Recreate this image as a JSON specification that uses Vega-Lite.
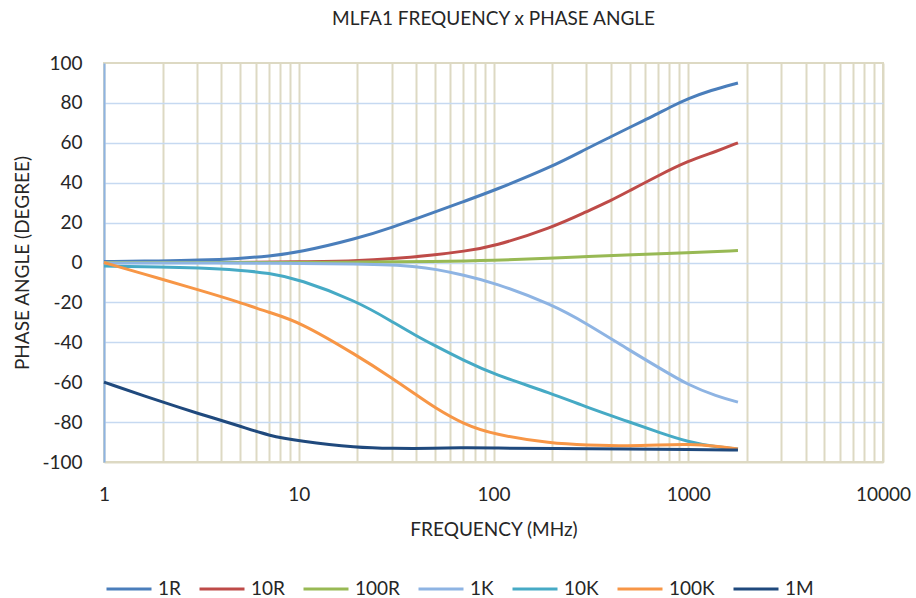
{
  "$schema": "https://vega.github.io/schema/vega-lite/v6.json",
  "width": 779,
  "height": 399,
  "autosize": {"type": "none"},
  "padding": {"left": 104, "top": 63, "right": 33, "bottom": 136},
  "background": "white",
  "config": {
    "font": "Lato",
    "view": {"stroke": "#DDD9C3", "strokeWidth": 2}
  },
  "title": {
    "text": "MLFA1 FREQUENCY x PHASE ANGLE",
    "fontSize": 19,
    "fontWeight": "normal",
    "color": "#262626",
    "anchor": "middle",
    "frame": "group",
    "baseline": "alphabetic",
    "offset": 10
  },
  "data": {
    "values": [
      {"series": "1R", "freq": 1, "phase": 0.5},
      {"series": "1R", "freq": 2, "phase": 0.8},
      {"series": "1R", "freq": 3, "phase": 1.1},
      {"series": "1R", "freq": 5, "phase": 2.0},
      {"series": "1R", "freq": 7, "phase": 3.2},
      {"series": "1R", "freq": 10, "phase": 5},
      {"series": "1R", "freq": 20, "phase": 12},
      {"series": "1R", "freq": 30, "phase": 17.5},
      {"series": "1R", "freq": 50, "phase": 25.3},
      {"series": "1R", "freq": 70, "phase": 30.5},
      {"series": "1R", "freq": 100, "phase": 36},
      {"series": "1R", "freq": 200, "phase": 48},
      {"series": "1R", "freq": 300, "phase": 57},
      {"series": "1R", "freq": 400, "phase": 63},
      {"series": "1R", "freq": 500, "phase": 67.7},
      {"series": "1R", "freq": 600, "phase": 71.5},
      {"series": "1R", "freq": 700, "phase": 74.7},
      {"series": "1R", "freq": 800, "phase": 77.7},
      {"series": "1R", "freq": 1000, "phase": 82.2},
      {"series": "1R", "freq": 1300, "phase": 86.3},
      {"series": "1R", "freq": 1800, "phase": 90},

      {"series": "10R", "freq": 1, "phase": 0},
      {"series": "10R", "freq": 5, "phase": 0},
      {"series": "10R", "freq": 10, "phase": 0.3},
      {"series": "10R", "freq": 20, "phase": 0.8},
      {"series": "10R", "freq": 30, "phase": 1.8},
      {"series": "10R", "freq": 50, "phase": 3.8},
      {"series": "10R", "freq": 70, "phase": 5.6},
      {"series": "10R", "freq": 100, "phase": 8},
      {"series": "10R", "freq": 200, "phase": 17.5},
      {"series": "10R", "freq": 300, "phase": 25.5},
      {"series": "10R", "freq": 400, "phase": 31},
      {"series": "10R", "freq": 500, "phase": 36},
      {"series": "10R", "freq": 700, "phase": 43.5},
      {"series": "10R", "freq": 1000, "phase": 51},
      {"series": "10R", "freq": 1400, "phase": 55.7},
      {"series": "10R", "freq": 1800, "phase": 60},

      {"series": "100R", "freq": 1, "phase": 0},
      {"series": "100R", "freq": 10, "phase": 0},
      {"series": "100R", "freq": 20, "phase": 0.2},
      {"series": "100R", "freq": 50, "phase": 0.5},
      {"series": "100R", "freq": 100, "phase": 1.0},
      {"series": "100R", "freq": 200, "phase": 2.2},
      {"series": "100R", "freq": 300, "phase": 3.0},
      {"series": "100R", "freq": 500, "phase": 3.8},
      {"series": "100R", "freq": 1000, "phase": 4.9},
      {"series": "100R", "freq": 1800, "phase": 6},

      {"series": "1K", "freq": 1, "phase": -0.2},
      {"series": "1K", "freq": 10, "phase": -0.3},
      {"series": "1K", "freq": 20, "phase": -0.7},
      {"series": "1K", "freq": 30, "phase": -1.2},
      {"series": "1K", "freq": 40, "phase": -2},
      {"series": "1K", "freq": 50, "phase": -3.3},
      {"series": "1K", "freq": 70, "phase": -6.2},
      {"series": "1K", "freq": 100, "phase": -10},
      {"series": "1K", "freq": 200, "phase": -21},
      {"series": "1K", "freq": 300, "phase": -30.5},
      {"series": "1K", "freq": 500, "phase": -44},
      {"series": "1K", "freq": 700, "phase": -52.5},
      {"series": "1K", "freq": 1000, "phase": -61.5},
      {"series": "1K", "freq": 1400, "phase": -67},
      {"series": "1K", "freq": 1800, "phase": -70},

      {"series": "10K", "freq": 1, "phase": -1.8},
      {"series": "10K", "freq": 2, "phase": -2.2},
      {"series": "10K", "freq": 3, "phase": -2.7},
      {"series": "10K", "freq": 5, "phase": -3.8},
      {"series": "10K", "freq": 7, "phase": -5.3},
      {"series": "10K", "freq": 10, "phase": -8.3},
      {"series": "10K", "freq": 20, "phase": -19.5},
      {"series": "10K", "freq": 30, "phase": -29.5},
      {"series": "10K", "freq": 40, "phase": -36.7},
      {"series": "10K", "freq": 50, "phase": -41.7},
      {"series": "10K", "freq": 70, "phase": -49},
      {"series": "10K", "freq": 100, "phase": -56},
      {"series": "10K", "freq": 200, "phase": -65.7},
      {"series": "10K", "freq": 300, "phase": -72.5},
      {"series": "10K", "freq": 500, "phase": -80},
      {"series": "10K", "freq": 700, "phase": -85},
      {"series": "10K", "freq": 1000, "phase": -90},
      {"series": "10K", "freq": 1400, "phase": -92.5},
      {"series": "10K", "freq": 1800, "phase": -93.5},

      {"series": "100K", "freq": 1, "phase": 0},
      {"series": "100K", "freq": 2, "phase": -8.5},
      {"series": "100K", "freq": 3, "phase": -13.5},
      {"series": "100K", "freq": 5, "phase": -20},
      {"series": "100K", "freq": 7, "phase": -25},
      {"series": "100K", "freq": 10, "phase": -29.5},
      {"series": "100K", "freq": 20, "phase": -46.7},
      {"series": "100K", "freq": 30, "phase": -57.8},
      {"series": "100K", "freq": 40, "phase": -66.2},
      {"series": "100K", "freq": 50, "phase": -72.8},
      {"series": "100K", "freq": 70, "phase": -81},
      {"series": "100K", "freq": 100, "phase": -86.2},
      {"series": "100K", "freq": 200, "phase": -90.8},
      {"series": "100K", "freq": 300, "phase": -91.5},
      {"series": "100K", "freq": 500, "phase": -92},
      {"series": "100K", "freq": 700, "phase": -91.5},
      {"series": "100K", "freq": 1000, "phase": -91},
      {"series": "100K", "freq": 1400, "phase": -92},
      {"series": "100K", "freq": 1800, "phase": -93.5},

      {"series": "1M", "freq": 1, "phase": -60},
      {"series": "1M", "freq": 2, "phase": -70},
      {"series": "1M", "freq": 3, "phase": -75.5},
      {"series": "1M", "freq": 5, "phase": -82},
      {"series": "1M", "freq": 7, "phase": -86.8},
      {"series": "1M", "freq": 10, "phase": -89.5},
      {"series": "1M", "freq": 20, "phase": -92.8},
      {"series": "1M", "freq": 30, "phase": -93.2},
      {"series": "1M", "freq": 50, "phase": -93.2},
      {"series": "1M", "freq": 70, "phase": -92.8},
      {"series": "1M", "freq": 100, "phase": -93},
      {"series": "1M", "freq": 200, "phase": -93.3},
      {"series": "1M", "freq": 500, "phase": -93.5},
      {"series": "1M", "freq": 1000, "phase": -93.8},
      {"series": "1M", "freq": 1800, "phase": -94}
    ]
  },
  "mark": {"type": "line", "interpolate": "basis", "strokeWidth": 3},
  "encoding": {
    "x": {
      "field": "freq",
      "type": "quantitative",
      "scale": {"type": "log", "domain": [1, 10000]},
      "axis": {
        "values": [1,2,3,4,5,6,7,8,9,10,20,30,40,50,60,70,80,90,100,200,300,400,500,600,700,800,900,1000,2000,3000,4000,5000,6000,7000,8000,9000,10000],
        "labelExpr": "indexof([1,10,100,1000,10000], datum.value) >= 0 ? format(datum.value, 'd') : ''",
        "labelFlush": false,
        "labelOverlap": false,
        "labelBound": false,
        "labelFontSize": 19,
        "labelColor": "#262626",
        "labelPadding": 23,
        "ticks": false,
        "tickSize": 0,
        "domainColor": "#DDD9C3",
        "domainWidth": 2,
        "grid": true,
        "gridColor": "#DDD9C3",
        "gridWidth": 2,
        "title": "FREQUENCY (MHz)",
        "titleFontSize": 19,
        "titleFontWeight": "normal",
        "titleColor": "#262626",
        "titleBaseline": "alphabetic",
        "titleY": 73
      }
    },
    "y": {
      "field": "phase",
      "type": "quantitative",
      "scale": {"domain": [-100, 100], "nice": false, "zero": false},
      "axis": {
        "values": [-100,-80,-60,-40,-20,0,20,40,60,80,100],
        "labelExpr": "datum.value < 0 ? '-' + abs(datum.value) : '' + datum.value",
        "labelFontSize": 19,
        "labelColor": "#262626",
        "labelPadding": 22,
        "ticks": false,
        "tickSize": 0,
        "domainColor": "#8EB4E3",
        "domainWidth": 2,
        "grid": true,
        "gridColor": {"condition": {"test": "abs(datum.value) >= 100", "value": "transparent"}, "value": "#C6D9F1"},
        "gridWidth": 1.5,
        "title": "PHASE ANGLE (DEGREE)",
        "titleFontSize": 19,
        "titleFontWeight": "normal",
        "titleColor": "#262626",
        "titleAngle": 270,
        "titleBaseline": "alphabetic",
        "titleX": -76,
        "titleY": 199.5
      }
    },
    "color": {
      "field": "series",
      "type": "nominal",
      "scale": {
        "domain": ["1R", "10R", "100R", "1K", "10K", "100K", "1M"],
        "range": ["#4A7EBB", "#BE4B48", "#98B954", "#8EB4E3", "#46AAC5", "#F79646", "#1F497D"]
      },
      "legend": {
        "orient": "none",
        "legendX": 1,
        "legendY": 502,
        "direction": "horizontal",
        "title": null,
        "symbolType": "stroke",
        "symbolSize": 2025,
        "symbolStrokeWidth": 3,
        "labelFontSize": 19,
        "labelColor": "#262626",
        "labelOffset": 5,
        "columnPadding": 12,
        "padding": 0
      }
    }
  }
}
